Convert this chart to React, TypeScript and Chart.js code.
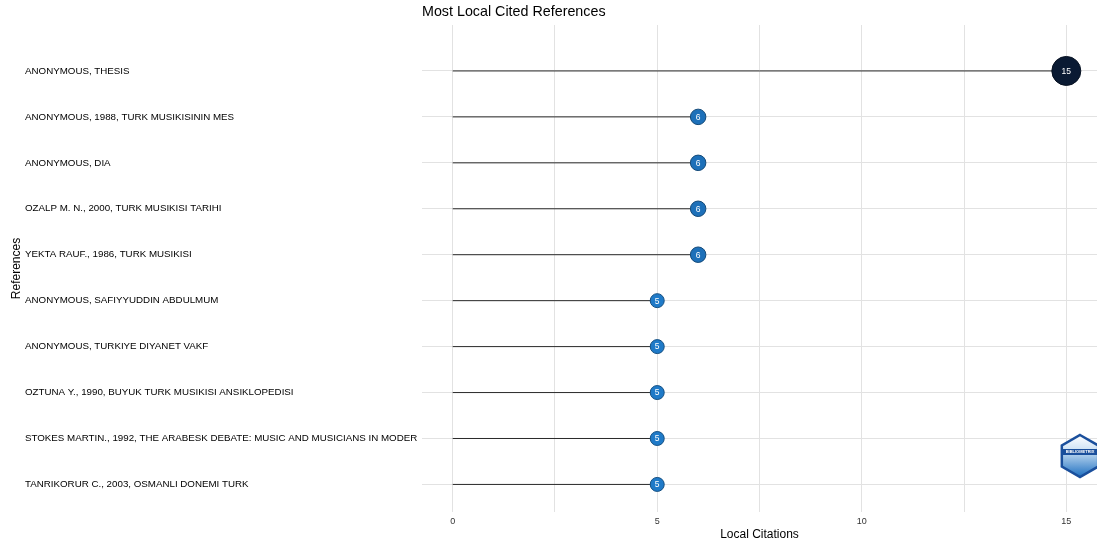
import React, { useEffect, useRef } from "react";
import { Chart, registerables } from "chart.js";

Chart.register(...registerables);

const categories: string[] = [
  "ANONYMOUS, THESIS",
  "ANONYMOUS, 1988, TURK MUSIKISININ MES",
  "ANONYMOUS, DIA",
  "OZALP M. N., 2000, TURK MUSIKISI TARIHI",
  "YEKTA RAUF., 1986, TURK MUSIKISI",
  "ANONYMOUS, SAFIYYUDDIN ABDULMUM",
  "ANONYMOUS, TURKIYE DIYANET VAKF",
  "OZTUNA Y., 1990, BUYUK TURK MUSIKISI ANSIKLOPEDISI",
  "STOKES MARTIN., 1992, THE ARABESK DEBATE: MUSIC AND MUSICIANS IN MODER",
  "TANRIKORUR C., 2003, OSMANLI DONEMI TURK",
];
const citations: number[] = [15, 6, 6, 6, 6, 5, 5, 5, 5, 5];
const xGridValues: number[] = [0, 2.5, 5, 7.5, 10, 12.5, 15];
const xTickLabels: number[] = [0, 5, 10, 15];

const FONT = "'Liberation Sans', Arial, Helvetica, sans-serif";

const lowColor = [31, 122, 200];
const highColor = [10, 26, 51];
function colorFor(v: number, dark = 0): string {
  const minV = Math.min(...citations);
  const maxV = Math.max(...citations);
  const t = maxV === minV ? 0 : (v - minV) / (maxV - minV);
  const c = lowColor.map((l, i) => Math.round((l + (highColor[i] - l) * t) * (1 - dark)));
  return `rgb(${c[0]},${c[1]},${c[2]})`;
}
function radiusFor(v: number): number {
  return 7 + (v - 5) * 0.75;
}

const pointLabelPlugin = {
  id: "pointLabels",
  afterDatasetsDraw(chart: any) {
    const meta = chart.getDatasetMeta(0);
    const ctx = chart.ctx;
    ctx.save();
    ctx.fillStyle = "#ffffff";
    ctx.textAlign = "center";
    ctx.textBaseline = "middle";
    ctx.font = `8.5px ${FONT}`;
    meta.data.forEach((el: any, i: number) => {
      ctx.fillText(String(citations[i]), el.x, el.y + 0.5);
    });
    ctx.restore();
  },
};

const logoPlugin = {
  id: "logo",
  afterDraw(chart: any) {
    const ctx = chart.ctx;
    const cx = chart.width - 17;
    const cy = chart.chartArea.bottom - 56;
    const r = 21;
    ctx.save();
    ctx.beginPath();
    for (let k = 0; k < 6; k++) {
      const a = -Math.PI / 2 + (k * Math.PI) / 3;
      const px = cx + r * Math.cos(a);
      const py = cy + r * Math.sin(a);
      if (k === 0) ctx.moveTo(px, py);
      else ctx.lineTo(px, py);
    }
    ctx.closePath();
    const g = ctx.createLinearGradient(cx, cy - r, cx, cy + r);
    g.addColorStop(0, "#ffffff");
    g.addColorStop(0.35, "#cfe3f5");
    g.addColorStop(1, "#1d6fc0");
    ctx.fillStyle = g;
    ctx.fill();
    ctx.lineWidth = 2.5;
    ctx.strokeStyle = "#1a4f9c";
    ctx.stroke();
    ctx.fillStyle = "#1a4f9c";
    ctx.fillRect(cx - r * 0.87, cy - 7, r * 1.74, 6);
    ctx.fillStyle = "#ffffff";
    ctx.font = `bold 4px ${FONT}`;
    ctx.textAlign = "center";
    ctx.textBaseline = "middle";
    ctx.fillText("BIBLIOMETRIX", cx, cy - 4);
    ctx.restore();
  },
};

export default function App() {
  const ref = useRef<HTMLCanvasElement | null>(null);

  useEffect(() => {
    if (!ref.current) return;
    const pointData = citations.map((v, i) => ({ x: v, y: i }));
    const lineSets = citations.map((v, i) => ({
      type: "scatter" as const,
      data: [
        { x: 0, y: i },
        { x: v, y: i },
      ],
      showLine: true,
      borderColor: "#2a2a2a",
      borderWidth: 1,
      pointRadius: 0,
      pointHoverRadius: 0,
      order: 1,
    }));

    const chart = new Chart(ref.current, {
      type: "scatter",
      data: {
        datasets: [
          {
            data: pointData,
            order: 0,
            clip: false,
            pointRadius: citations.map((v) => radiusFor(v)),
            pointHoverRadius: citations.map((v) => radiusFor(v)),
            pointBackgroundColor: citations.map((v) => colorFor(v)),
            pointBorderColor: citations.map((v) => colorFor(v, 0.35)),
            pointBorderWidth: 1,
          } as any,
          ...lineSets,
        ],
      },
      options: {
        responsive: false,
        animation: false,
        layout: { autoPadding: false, padding: { left: 25, right: 0, top: 0, bottom: 0 } },
        plugins: {
          legend: { display: false },
          tooltip: { enabled: false },
          title: {
            display: true,
            text: "Most Local Cited References",
            align: "start",
            fullSize: false,
            color: "#000000",
            font: { family: FONT, size: 14.3, weight: "normal" },
            padding: { top: 3, bottom: 4.84 },
          },
        },
        scales: {
          x: {
            type: "linear",
            min: -0.75,
            max: 15.75,
            afterBuildTicks: (scale: any) => {
              scale.ticks = xGridValues.map((v) => ({ value: v }));
            },
            afterFit: (scale: any) => {
              scale.height = 34;
              scale.paddingLeft = 0;
              scale.paddingRight = 0;
            },
            grid: { color: "#e2e2e2", lineWidth: 1, drawTicks: false },
            border: { display: false },
            ticks: {
              autoSkip: false,
              maxRotation: 0,
              padding: 4.5,
              color: "#333333",
              font: { family: FONT, size: 9 },
              callback: (v: any) => (xTickLabels.includes(Number(v)) ? String(v) : ""),
            },
            title: {
              display: true,
              text: "Local Citations",
              color: "#000000",
              font: { family: FONT, size: 12 },
              padding: { top: 0, bottom: 4 },
            },
          },
          y: {
            type: "linear",
            reverse: true,
            min: -1,
            max: 9.6,
            afterBuildTicks: (scale: any) => {
              scale.ticks = categories.map((_, i) => ({ value: i }));
            },
            afterFit: (scale: any) => {
              scale.width = 397;
              scale.paddingTop = 0;
              scale.paddingBottom = 0;
            },
            grid: { color: "#e2e2e2", lineWidth: 1, drawTicks: false },
            border: { display: false },
            ticks: {
              autoSkip: false,
              crossAlign: "far",
              color: "#000000",
              font: { family: FONT, size: 9.75 },
              callback: (v: any) => categories[Number(v)] ?? "",
            },
            title: {
              display: true,
              text: "References",
              color: "#000000",
              font: { family: FONT, size: 12 },
              padding: { top: -16, bottom: 0 },
            },
          },
        },
      } as any,
      plugins: [pointLabelPlugin, logoPlugin],
    });
    return () => chart.destroy();
  }, []);

  return (
    <div style={{ position: "absolute", left: 0, top: 0, width: 1097, height: 546, background: "#ffffff" }}>
      <canvas ref={ref} width={1097} height={546} style={{ display: "block" }} />
    </div>
  );
}
